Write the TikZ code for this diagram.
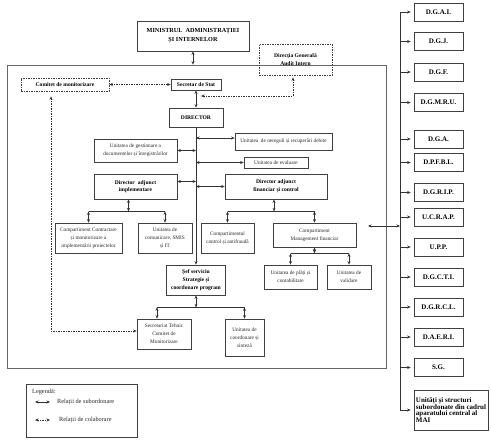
\documentclass[tikz,border=0pt]{standalone}
\usepackage{fontspec}
\setmainfont{Liberation Serif}
\usetikzlibrary{arrows.meta,calc}
\begin{document}
\begin{tikzpicture}[x=1pt,y=-1pt,
  sz/.style 2 args={minimum width=#1pt, minimum height=#2pt},
  box/.style={draw=black!75, line width=0.7pt, inner sep=1pt, align=center, text=black!85, font=\fontsize{5.3}{8}\selectfont},
  bbox/.style={box, text=black, font=\fontsize{5.6}{7.7}\selectfont\bfseries},
  dbox/.style={bbox, dash pattern=on 1.5pt off 1pt},
  rbox/.style={draw=black!75, line width=0.7pt, minimum width=49pt, minimum height=18pt, inner sep=1pt, font=\fontsize{7}{8}\selectfont\bfseries},
  tip/.tip={Stealth[length=3.5pt,width=3pt]},
  sub/.style={draw=black!80, line width=0.6pt, tip-tip},
  fwd/.style={draw=black!80, line width=0.6pt, -tip},
  coll/.style={sub, dash pattern=on 1.5pt off 1pt},
  plain/.style={draw=black!80, line width=0.6pt},
  lbl/.style={inner sep=0pt, anchor=west, text=black!85, font=\fontsize{6.3}{7}\selectfont}]
\useasboundingbox (0,0) rectangle (491,440);

% outer frame
\node[draw=black!60, line width=0.7pt, inner sep=0pt, sz={379}{303}] (cadru) at (196.5,216.5) {};

% top
\node[bbox, sz={112}{30}, font=\fontsize{6.2}{9.3}\selectfont\bfseries] (mai) at (193,36) {MINISTRUL \ ADMINISTRAȚIEI\\ȘI INTERNELOR};
\node[dbox, sz={73}{31}] (audit) at (295.5,59.5) {Direcția Generală\\Audit Intern};
\node[dbox, sz={88}{13}] (comitet) at (65,84.5) {Comitet de monitorizare};
\node[bbox, sz={50}{11}] (secstat) at (196,84.5) {Secretar de Stat};
\node[bbox, sz={54}{19}] (director) at (196,117.5) {DIRECTOR};

% second level
\node[box, sz={97}{17}] (nereguli) at (283.5,141.5) {Unitatea \ de nereguli și recuperări debite};
\node[box, sz={83}{23}] (gest) at (135.5,150.5) {Unitatea de gestionare a\\documentelor și înregistrărilor};
\node[box, sz={64}{11}] (evaluare) at (276,162.5) {Unitatea de evaluare};
\node[bbox, sz={83}{25}] (impl) at (135.5,186.5) {Director \ adjunct\\implementare};
\node[bbox, sz={102}{25}] (fin) at (276,186.5) {Director adjunct\\financiar și control};

% third level
\node[box, sz={67}{30}] (contr) at (88.5,238) {Compartiment Contractare\\și monitorizare a\\implementării proiectelor};
\node[box, sz={54}{30}] (comun) at (165,238) {Unitatea de\\comunicare, SMIS\\și IT};
\node[box, sz={53}{30}] (antifr) at (227.5,238) {Compartimentul\\control și antifraudă};
\node[box, sz={83}{24}] (mgmt) at (314.5,235) {Compartiment\\Management financiar};
\node[box, sz={53}{24}] (plati) at (290.5,277) {Unitatea de plăți și\\contabilitate};
\node[box, sz={44}{24}] (valid) at (349,277) {Unitatea de\\validare};
\node[bbox, sz={59}{30}] (sef) at (196,280) {Șef serviciu\\Strategie și\\coordonare program};
\node[box, sz={54}{30}] (sectehn) at (164,334) {Secretariat Tehnic\\Comitet de\\Monitorizare};
\node[box, sz={39}{37}] (sinteza) at (244.5,337.5) {Unitatea de\\coordonare și\\sinteză};

% right column
\node[rbox] (dgai) at (438.5,12) {D.G.A.I.};
\node[rbox] (dgj) at (438.5,41.5) {D.G.J.};
\node[rbox] (dgf) at (438.5,72) {D.G.F.};
\node[rbox] (dgmru) at (438.5,102.5) {D.G.M.R.U.};
\node[rbox] (dga) at (438.5,139) {D.G.A.};
\node[rbox] (dpfbl) at (438.5,162.5) {D.P.F.B.L.};
\node[rbox] (dgrip) at (438.5,192.5) {D.G.R.I.P.};
\node[rbox] (ucrap) at (438.5,217) {U.C.R.A.P.};
\node[rbox] (upp) at (438.5,247) {U.P.P.};
\node[rbox] (dgcti) at (438.5,277) {D.G.C.T.I.};
\node[rbox] (dgrcl) at (438.5,307) {D.G.R.C.L.};
\node[rbox] (daeri) at (438.5,337) {D.A.E.R.I.};
\node[rbox] (sg) at (438.5,367.5) {S.G.};
\node[rbox, sz={74}{40}, align=left, inner sep=2pt, font=\fontsize{7}{6.9}\selectfont\bfseries] (unit) at (451,410) {Unități și structuri\\subordonate din cadrul\\aparatului central al\\MAI};

% legend
\node[draw=black!75, line width=0.7pt, inner sep=0pt, sz={111}{53}] (legend) at (81.5,410.5) {};
\node[lbl] (legtitle) at (32,392) {Legendă:};
\coordinate (l1a) at (35,402); \coordinate (l1b) at (50,402);
\coordinate (l2a) at (35,420); \coordinate (l2b) at (50,420);
\node[lbl] (legsub) at (57,402) {Relații de subordonare};
\node[lbl] (legcol) at (59,420) {Relații de colaborare};
\draw[sub] (l1a) -- (l1b);
\draw[coll] (l2a) -- (l2b);

% connectors: top
\draw[sub] (mai.south) -- (mai.south |- cadru.north);
\draw[coll] (comitet.east) -- (secstat.west);
\coordinate (auditend) at (201,96);
\draw[coll, shorten <=2pt] ([xshift=-2.5pt]audit.south) |- (auditend);
\draw[sub] (secstat.south) -- (director.north);
\draw[fwd] (director.south) -- (sef.north);

% trunk branches
\coordinate (nerport) at ($(nereguli.west)+(0,-3.5)$);
\draw[sub] (nerport -| director.south) -- (nerport);
\draw[sub] (gest.east) -- (gest.east -| director.south);
\draw[sub] (evaluare.west -| director.south) -- (evaluare.west);
\coordinate (implport) at ($(impl.east)+(0,-5)$);
\draw[sub] (implport) -- (implport -| director.south);
\draw[sub] (fin.west -| director.south) -- (fin.west);

% implementare children
\coordinate (implbar) at ($(impl.south)+(-7,12)$);
\draw[sub] (impl.south -| implbar) -- (implbar);
\draw[plain] (implbar -| contr.north) -- (implbar -| comun.north);
\draw[sub] (implbar -| contr.north) -- (contr.north);
\draw[sub] (implbar -| comun.north) -- (comun.north);

% financiar children
\coordinate (finbar) at ($(fin.south)+(-2,12)$);
\draw[sub] (fin.south -| finbar) -- (finbar);
\draw[plain] (finbar -| antifr.north) -- (finbar -| mgmt.north);
\draw[sub] (finbar -| antifr.north) -- (antifr.north);
\draw[sub] (finbar -| mgmt.north) -- (mgmt.north);

% management children
\coordinate (mgmtbar) at ($(mgmt.south)+(0,6)$);
\draw[sub] (mgmt.south) -- (mgmtbar);
\draw[plain] (mgmtbar -| plati.north) -- (mgmtbar -| valid.north);
\draw[sub] (mgmtbar -| plati.north) -- (plati.north);
\draw[sub] (mgmtbar -| valid.north) -- (valid.north);

% sef children
\coordinate (sefbar) at ($(sef.south)+(0,12)$);
\draw[sub] (sef.south) -- (sefbar);
\coordinate (stport) at ($(sectehn.north)+(-7,0)$);
\draw[plain] (sefbar -| stport) -- (sefbar -| sinteza.north);
\draw[sub] (sefbar -| stport) -- (stport);
\draw[sub] (sefbar -| sinteza.north) -- (sinteza.north);

% comitet to secretariat
\draw[coll, shorten <=5pt] ([xshift=-14pt]comitet.south) |- ([yshift=3pt]sectehn.west);

% right bus
\coordinate (bustop) at (400,12);
\coordinate (busbot) at (400,410);
\draw[plain] (bustop) -- (busbot);
\coordinate (cadruport) at (368,226);
\draw[sub] (cadruport) -- (cadruport -| bustop);
\foreach \n in {dgai,dgj,dgf,dgmru,dga,dpfbl,dgrip,ucrap,upp,dgcti,dgrcl,daeri,sg,unit}
  \draw[fwd, shorten >=3pt] (\n.west -| bustop) -- (\n.west);
\end{tikzpicture}
\end{document}
